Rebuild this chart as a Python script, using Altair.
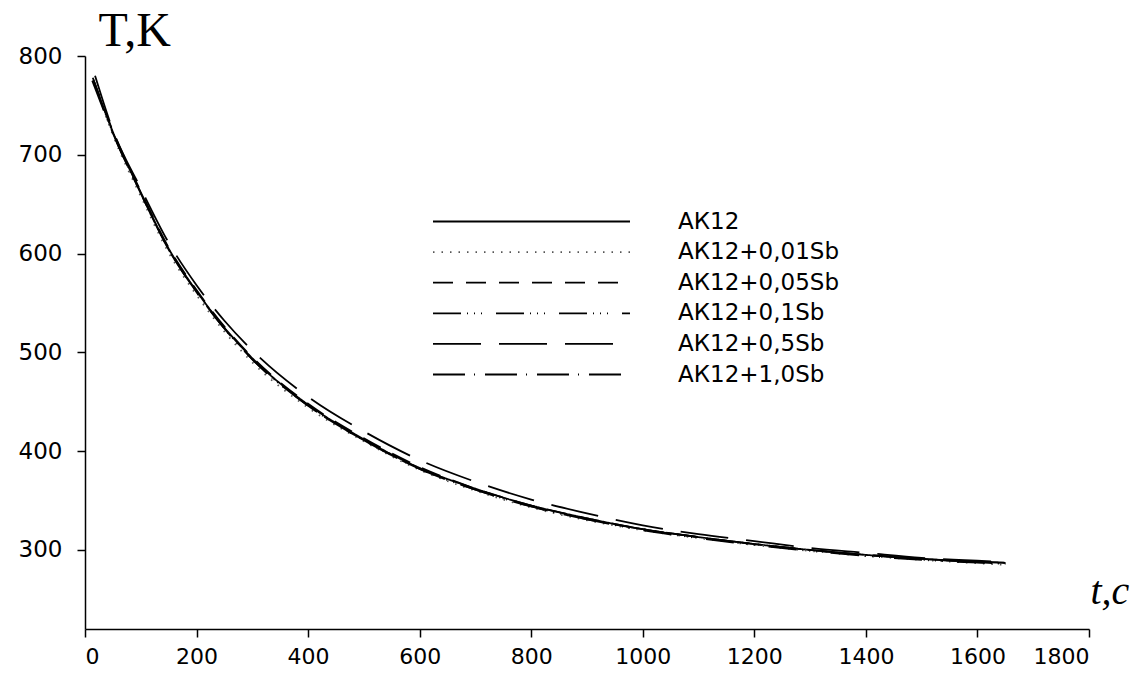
import altair as alt
import pandas as pd

series = ["АК12", "АК12+0,01Sb", "АК12+0,05Sb", "АК12+0,1Sb", "АК12+0,5Sb", "АК12+1,0Sb"]

# time grid (s); first point of each curve differs slightly
t_start = [15, 17, 14, 16, 18, 13]
t_grid = [50, 100, 150, 200, 250, 300, 400, 500, 600, 700, 800, 900,
          1000, 1100, 1200, 1300, 1400, 1500, 1650]

T_ak12 = [776, 723, 662, 605, 562, 525, 494, 447, 412, 383, 362, 345, 332,
          321, 313, 306, 300, 295, 291, 287]
T_001 = [772, 720, 658, 601, 558, 521, 490, 444, 410, 381, 360, 343, 330,
         320, 312, 305, 299, 294, 290, 285]
T_005 = [778, 724, 663, 606, 563, 526, 495, 448, 413, 384, 362, 345, 332,
         321, 313, 306, 300, 295, 291, 286]
T_01 = [774, 722, 661, 604, 561, 524, 493, 446, 411, 382, 361, 344, 331,
        320, 312, 305, 299, 294, 290, 286]
T_05 = [780, 725, 666, 611, 568, 532, 502, 455, 420, 391, 369, 351, 337,
        325, 316, 309, 302, 297, 292, 288]
T_10 = [775, 722, 661, 604, 561, 524, 493, 446, 411, 382, 361, 344, 331,
        321, 313, 306, 300, 295, 291, 287]

values = [T_ak12, T_001, T_005, T_01, T_05, T_10]

rows = []
for name, ts, Ts in zip(series, t_start, values):
    for t, T in zip([ts] + t_grid, Ts):
        rows.append({"series": name, "t": t, "T": T})
df = pd.DataFrame(rows)

dashes = [[1, 0], [1.5, 7], [20, 13], [28, 6, 1, 6, 1, 6, 1, 14], [48, 18], [32, 9, 1, 10]]
colors = ["black", "#555555", "black", "black", "black", "black"]

chart = alt.Chart(df).mark_line(strokeWidth=1.8, interpolate="monotone").encode(
    x=alt.X("t:Q", scale=alt.Scale(domain=[0, 1800], nice=False),
            axis=alt.Axis(values=list(range(0, 1801, 200)), format="d", title="t,c",
                          titleX=1005, titleY=-26, titleAlign="left",
                          titleBaseline="alphabetic", titleFont="Liberation Serif",
                          titleFontStyle="italic", titleFontWeight="normal",
                          titleFontSize=40, labelPadding=9, labelFontSize=22)),
    y=alt.Y("T:Q", scale=alt.Scale(domain=[220, 800], nice=False, zero=False),
            axis=alt.Axis(values=[300, 400, 500, 600, 700, 800], format="d", title="T,K",
                          titleAngle=0, titleX=13, titleY=-11, titleAlign="left",
                          titleBaseline="alphabetic", titleFont="Liberation Serif",
                          titleFontWeight="normal", titleFontSize=48, labelPadding=15,
                          labelFontSize=23)),
    strokeDash=alt.StrokeDash("series:N", scale=alt.Scale(domain=series, range=dashes),
                              legend=alt.Legend(title=None)),
    color=alt.Color("series:N", scale=alt.Scale(domain=series, range=colors),
                    legend=alt.Legend(title=None)),
    order=alt.Order("t:Q"),
).properties(
    width=1004, height=573,
    autosize=alt.AutoSizeParams(type="none"),
    padding={"left": 85, "top": 56, "right": 52, "bottom": 44},
).configure_view(stroke=None).configure_axis(
    grid=False, domainColor="black", domainWidth=1.5, tickColor="black",
    tickWidth=1.5, tickSize=8, labelFont="DejaVu Sans",
    labelColor="black", titleColor="black",
).configure_legend(
    orient="none", legendX=347, legendY=154, padding=0,
    symbolType="stroke", symbolSize=38809, symbolStrokeWidth=1.8,
    clipHeight=23, rowPadding=6.6, labelOffset=47,
    labelFont="DejaVu Sans", labelFontSize=23, labelColor="black", labelLimit=0,
)

chart.save("out.html", embed_options={"renderer": "svg", "actions": False})
